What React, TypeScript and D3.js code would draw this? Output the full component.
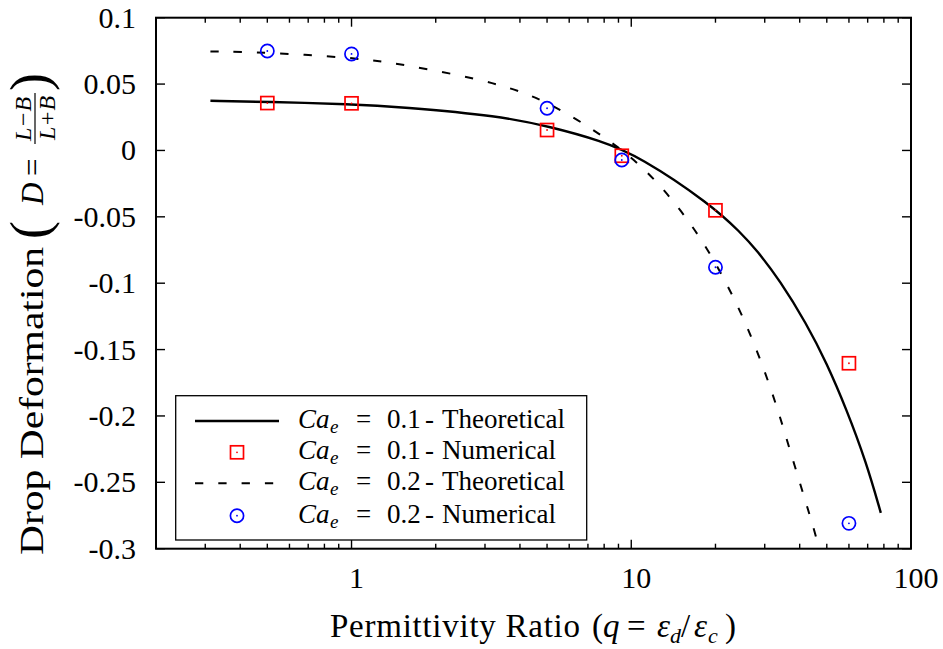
import React from "react";
import * as d3 from "d3";

// ---- data ----
const qNumerical = [0.5, 1, 5, 9.25, 20, 60];
const dNum01 = [0.0357, 0.0355, 0.0154, -0.004, -0.0451, -0.1603];
const dNum02 = [0.0749, 0.0727, 0.0318, -0.0072, -0.088, -0.2809];

const qTheory01 = [0.313, 0.5, 1.0, 1.5, 3.4, 5.14, 7.75, 10.7, 19.2, 24.6, 28.1, 34.0, 42.3, 49.9, 58.8, 69.2, 78.0];
const dTheory01 = [0.0374, 0.0366, 0.0349, 0.0328, 0.026, 0.0178, 0.0075, -0.0045, -0.0405, -0.0618, -0.0752, -0.098, -0.1305, -0.16, -0.195, -0.235, -0.273];

const qTheory02 = [0.313, 0.5, 1.0, 1.5, 3.4, 5.14, 7.75, 10.7, 14.1, 18.1, 21.9, 26.0, 32.2, 38.0, 45.5, 46.8];
const dTheory02 = [0.0746, 0.0738, 0.07, 0.0653, 0.0508, 0.0357, 0.0125, -0.0095, -0.0371, -0.0685, -0.0999, -0.132, -0.183, -0.235, -0.288, -0.3];

const yTicks = [0.1, 0.05, 0, -0.05, -0.1, -0.15, -0.2, -0.25, -0.3];
const yTickLabels = ["0.1", "0.05", "0", "-0.05", "-0.1", "-0.15", "-0.2", "-0.25", "-0.3"];
const xMajorTicks = [1, 10, 100];
const xTickLabels = ["1", "10", "100"];
const xDomain = [0.2, 100];
const yDomain = [-0.3, 0.1];

const legendLabels = ["0.1", "0.1", "0.2", "0.2"];
const legendKinds = ["Theoretical", "Numerical", "Theoretical", "Numerical"];

const FONT = "Liberation Serif, DejaVu Serif, serif";

export default function App() {
  const left = 156, right = 911, top = 17.7, bottom = 548.7;
  const x = d3.scaleLog().domain(xDomain).range([left, right]);
  const y = d3.scaleLinear().domain(yDomain).range([bottom, top]);

  const minorX: number[] = [];
  for (const dec of [0.1, 1, 10]) {
    for (let m = 2; m <= 9; m++) {
      const v = dec * m;
      if (v >= 0.2 && v < 100) minorX.push(v);
    }
  }

  const line = d3
    .line<[number, number]>()
    .x((d) => x(d[0]))
    .y((d) => y(d[1]))
    .curve(d3.curveBasis);

  const th01 = line(qTheory01.map((q, i) => [q, dTheory01[i]]) as [number, number][]) || "";
  const th02 = line(qTheory02.map((q, i) => [q, dTheory02[i]]) as [number, number][]) || "";

  const sq = 13;
  const square = (cx: number, cy: number, k: string) => (
    <g key={k}>
      <rect x={cx - sq / 2} y={cy - sq / 2} width={sq} height={sq} fill="none" stroke="#ff0000" strokeWidth={1.7} />
      <circle cx={cx} cy={cy} r={0.9} fill="#ff0000" />
    </g>
  );
  const circ = (cx: number, cy: number, k: string) => (
    <g key={k}>
      <circle cx={cx} cy={cy} r={6.6} fill="none" stroke="#0000ff" strokeWidth={1.7} />
      <circle cx={cx} cy={cy} r={0.9} fill="#0000ff" />
    </g>
  );

  const legRowY = [421, 452.3, 483.3, 515.7];
  const ts = { fontFamily: FONT };

  return (
    <svg width={943} height={649} style={{ position: "absolute", left: 0, top: 0, background: "#fff", fontFamily: FONT }}>
      <rect x={0} y={0} width={943} height={649} fill="#fff" />
      <defs>
        <clipPath id="plotclip">
          <rect x={left} y={top} width={right - left} height={bottom - top} />
        </clipPath>
      </defs>

      {/* curves */}
      <g clipPath="url(#plotclip)">
        <path d={th01} fill="none" stroke="#000" strokeWidth={2.4} />
        <path d={th02} fill="none" stroke="#000" strokeWidth={2} strokeDasharray="8.3,15" />
        {qNumerical.map((q, i) => square(x(q), y(dNum01[i]), "s" + i))}
        {qNumerical.map((q, i) => circ(x(q), y(dNum02[i]), "c" + i))}
      </g>

      {/* ticks */}
      <g stroke="#000" strokeWidth={1.4}>
        {yTicks.map((t, i) => (
          <g key={"yt" + i}>
            <line x1={left} x2={left + 9} y1={y(t)} y2={y(t)} />
            <line x1={right} x2={right - 9} y1={y(t)} y2={y(t)} />
          </g>
        ))}
        {xMajorTicks.map((t, i) => (
          <g key={"xt" + i}>
            <line x1={x(t)} x2={x(t)} y1={bottom} y2={bottom - 9} />
            <line x1={x(t)} x2={x(t)} y1={top} y2={top + 9} />
          </g>
        ))}
        {minorX.map((t, i) => (
          <g key={"xm" + i}>
            <line x1={x(t)} x2={x(t)} y1={bottom} y2={bottom - 5} />
            <line x1={x(t)} x2={x(t)} y1={top} y2={top + 5} />
          </g>
        ))}
      </g>

      {/* frame */}
      <rect x={left} y={top} width={right - left} height={bottom - top} fill="none" stroke="#000" strokeWidth={2} />

      {/* tick labels */}
      <g fontSize={30} fill="#000">
        {yTicks.map((t, i) => (
          <text key={"yl" + i} style={ts} x={136} y={y(t) + 10} textAnchor="end">
            {yTickLabels[i]}
          </text>
        ))}
        {xMajorTicks.map((t, i) => (
          <text key={"xl" + i} style={ts} x={x(t) + 5} y={588} textAnchor="middle">
            {xTickLabels[i]}
          </text>
        ))}
      </g>

      {/* x title */}
      <text style={ts} y={637} fontSize={33} fill="#000">
        <tspan x={330} textLength={250} lengthAdjust="spacing">Permittivity Ratio</tspan>
        <tspan x={592}>(</tspan>
        <tspan x={603} fontStyle="italic">q</tspan>
        <tspan x={627}>=</tspan>
        <tspan x={657} fontStyle="italic">ε</tspan>
        <tspan x={670} fontStyle="italic" fontSize={22} dy={6}>d</tspan>
        <tspan x={681} dy={-6}>/</tspan>
        <tspan x={694} fontStyle="italic">ε</tspan>
        <tspan x={708} fontStyle="italic" fontSize={22} dy={6}>c</tspan>
        <tspan x={725} dy={-6}>)</tspan>
      </text>

      {/* y title */}
      <g transform="translate(43,555) rotate(-90)" fill="#000">
        <text style={ts} x={0} y={0} fontSize={33} textLength={308} lengthAdjust="spacingAndGlyphs">Drop Deformation</text>
        <text style={ts} x={316} y={5} fontSize={54}>(</text>
        <text style={ts} x={350} y={0} fontSize={31} fontStyle="italic">D</text>
        <text style={ts} x={379} y={0} fontSize={31}>=</text>
        <text style={ts} x={436} y={-12} fontSize={24} fontStyle="italic" textAnchor="middle">L−B</text>
        <line x1={411} x2={462} y1={-8} y2={-8} stroke="#000" strokeWidth={1.2} />
        <text style={ts} x={437} y={12} fontSize={24} fontStyle="italic" textAnchor="middle">L+B</text>
        <text style={ts} x={464} y={5} fontSize={54}>)</text>
      </g>

      {/* legend */}
      <rect x={175.7} y={395.7} width={411} height={144.3} fill="#fff" stroke="#000" strokeWidth={1.3} />
      {legRowY.map((ry, i) => {
        const kind = legendKinds[i];
        let sample: React.ReactNode = null;
        if (i === 0) sample = <line x1={195} x2={279} y1={ry} y2={ry} stroke="#000" strokeWidth={2.4} />;
        if (i === 2) sample = <line x1={195} x2={279} y1={ry} y2={ry} stroke="#000" strokeWidth={2} strokeDasharray="8.3,15" />;
        if (i === 1) sample = square(237, ry, "ls");
        if (i === 3) sample = circ(237, ry, "lc");
        return (
          <g key={"leg" + i} fill="#000">
            {sample}
            <text style={ts} y={ry + 7} fontSize={27}>
              <tspan x={298} fontStyle="italic">Ca</tspan>
              <tspan x={330} fontStyle="italic" fontSize={19} dy={5}>e</tspan>
              <tspan x={356} dy={-5}>=</tspan>
              <tspan x={387}>{legendLabels[i]}</tspan>
              <tspan x={425}>-</tspan>
              <tspan x={442}>{kind}</tspan>
            </text>
          </g>
        );
      })}
    </svg>
  );
}
